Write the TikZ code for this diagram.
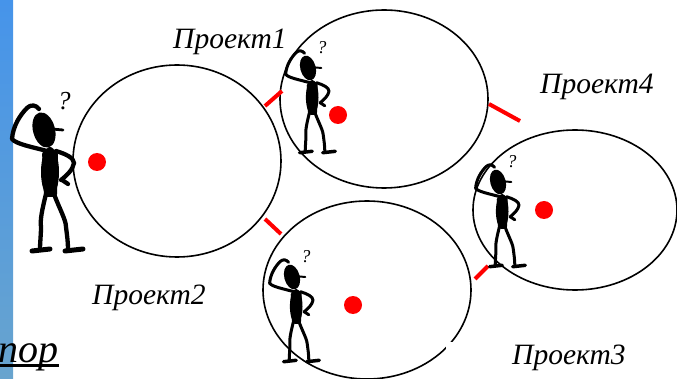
\documentclass[tikz,border=0pt]{standalone}
\usepackage{fontspec}
\setmainfont{Liberation Serif}
\usetikzlibrary{shapes.geometric}

\definecolor{stripTop}{RGB}{70,148,234}
\definecolor{stripMid}{RGB}{138,188,232}
\definecolor{stripBot}{RGB}{104,164,206}

\tikzset{
  project/.style={ellipse, draw=black, line width=1.6pt, inner sep=0pt},
  label/.style={font=\fontsize{29.5}{29.5}\selectfont\itshape, inner sep=2pt},
  reddot/.style={circle, fill=red, inner sep=0pt, minimum size=18pt},
  redlink/.style={draw=red, line width=4pt},
  % cartoon of a puzzled little man scratching his head; #1 = scale
  pics/thinker/.style={code={
    \begin{scope}[line width=#1*4.3pt, line cap=round, line join=round]
      % question mark above the head
      \node[transform shape, font=\fontsize{26}{26}\selectfont\itshape, inner sep=0pt]
        at (20,-29) {?};
      % head
      \fill[rotate=15] (0,0) ellipse [x radius=11, y radius=18];
      % cap brim / nose
      \draw[line width=#1*2.8pt] (8,-1) -- (19,0);
      % arm raised to the head
      \draw (3,21) .. controls (-12,17) and (-28,14) .. (-32,9)
            .. controls (-31,-4) and (-24,-15) .. (-17,-22)
            .. controls (-13,-26) and (-8,-25) .. (-5,-21);
      % torso
      \fill (6,42) ellipse [x radius=9, y radius=25];
      \fill[rounded corners=3pt] (-2,21) -- (14,21) -- (13,67) -- (0,67) -- cycle;
      % arm on the hip
      \draw (12,21) .. controls (22,24) and (30,28) .. (30,33)
            .. controls (29,40) and (22,46) .. (17,50);
      \draw (18,50) -- (24,54);
      % legs and feet
      \draw (2,64) .. controls (-2,80) and (-4,90) .. (-3,97)
            .. controls (-3,105) and (-4,112) .. (-4,119);
      \draw[line width=#1*5pt] (-12,121) -- (6,119);
      \draw (10,64) .. controls (16,80) and (22,90) .. (22,97)
            .. controls (23,105) and (24,112) .. (24,119);
      \draw[line width=#1*5pt] (21,121) -- (39,119);
    \end{scope}
  }},
  pics/thinker/.default=1
}

\begin{document}
\begin{tikzpicture}[x=1pt, y=-1pt]
  \useasboundingbox (0,0) rectangle (677,379);
  \clip (0,0) rectangle (677,379);

  % blue band along the left edge
  \shade[top color=stripTop, middle color=stripMid, bottom color=stripBot]
    (0,0) rectangle (13,379);

  % the four projects
  \node[project, minimum width=208pt, minimum height=192pt] (p2) at (177,161) {};
  \node[project, minimum width=208pt, minimum height=178pt] (p1) at (384,99) {};
  \node[project, minimum width=204pt, minimum height=160pt] (p4) at (575,210) {};
  \node[project, minimum width=208pt, minimum height=178pt] (p3) at (367,290) {};

  % labels
  \node[label, anchor=base west] (l1) at (171,49) {Проект1};
  \node[label, anchor=base west] (l4) at (538,94) {Проект4};
  \node[label, anchor=base west] (l2) at (90,305) {Проект2};
  \node[label, anchor=base west, fill=white] (l3) at (446,364) {\hspace*{64pt}Проект3};

  % partly hidden underlined word at the bottom left
  \node[font=\fontsize{40}{40}\selectfont\itshape, anchor=base east, inner sep=0pt]
    (word) at (59,362) {пор};
  \draw[line width=2.6pt] ([yshift=-3.5pt]word.base west) -- ([yshift=-3.5pt]word.base east);

  % red dots inside the projects
  \node[reddot] (d2) at (97,162) {};
  \node[reddot] (d1) at (338,115) {};
  \node[reddot] (d4) at (544,210) {};
  \node[reddot] (d3) at (353,305) {};

  % short red links between neighbouring projects
  \coordinate (a1) at (265,106); \coordinate (b1) at (282,91);
  \coordinate (a2) at (265,219); \coordinate (b2) at (281,234);
  \coordinate (a3) at (489,104); \coordinate (b3) at (520,121);
  \coordinate (a4) at (475,279); \coordinate (b4) at (488,266);
  \draw[redlink] (a1) -- (b1);
  \draw[redlink] (a2) -- (b2);
  \draw[redlink] (a3) -- (b3);
  \draw[redlink] (a4) -- (b4);

  % puzzled men
  \pic at (44,130) {thinker=1};
  \pic[scale=0.7] at (308,68) {thinker=0.7};
  \pic[scale=0.7] at (498,182) {thinker=0.7};
  \pic[scale=0.7] at (292,277) {thinker=0.7};
\end{tikzpicture}
\end{document}
